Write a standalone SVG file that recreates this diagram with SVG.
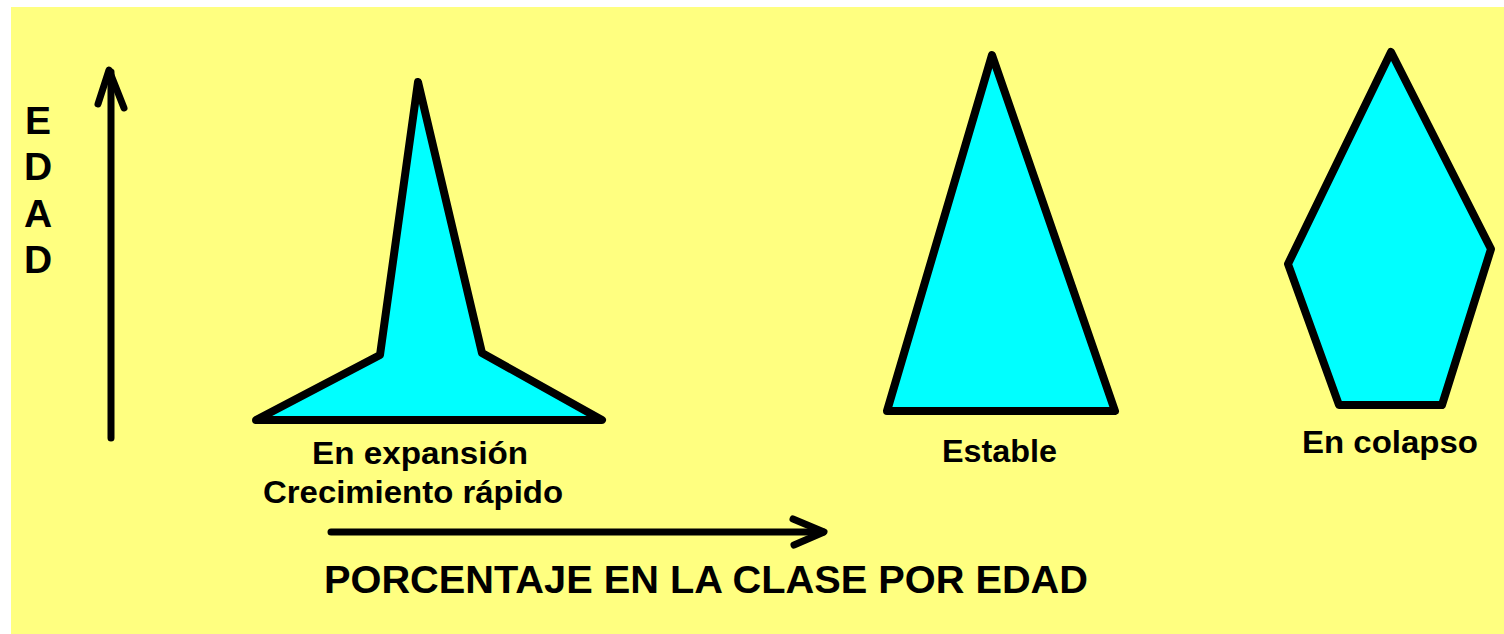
<svg xmlns="http://www.w3.org/2000/svg" width="1504" height="634" viewBox="0 0 1504 634">
<style>
.shape{fill:#00FFFF;stroke:#000;stroke-width:8;stroke-linejoin:round}
.lbl{font-family:"Liberation Sans",Arial,sans-serif;font-size:31px;font-weight:bold;fill:#000}
.big{font-family:"Liberation Sans",Arial,sans-serif;font-size:39px;font-weight:bold;fill:#000}
.axis{stroke:#000;stroke-width:7;fill:none;stroke-linecap:round;stroke-linejoin:round}
</style>
<rect x="0" y="0" width="1504" height="634" fill="#fff"/>
<rect x="11" y="7" width="1493" height="627" fill="#FFFF80"/>
<g id="connectors">
<path class="axis" d="M111,438 V72"/>
<path class="axis" d="M98,104 L109,70 L124,108"/>
<path class="axis" d="M331,532 H823"/>
<path class="axis" d="M793,519 L824,532 L794,545"/>
</g>
<g id="axis-y-label">
<text class="big" x="38" y="134" text-anchor="middle">E</text>
<text class="big" x="38" y="180" text-anchor="middle">D</text>
<text class="big" x="38" y="227" text-anchor="middle">A</text>
<text class="big" x="38" y="273" text-anchor="middle">D</text>
</g>
<g id="axis-x-label">
<text class="big" x="324" y="593" textLength="764" lengthAdjust="spacingAndGlyphs">PORCENTAJE EN LA CLASE POR EDAD</text>
</g>
<g id="expansion">
<polygon class="shape" points="418,82 482,353 602,420 256,420 380,355"/>
<text class="lbl" x="312" y="464" textLength="216" lengthAdjust="spacingAndGlyphs">En expansión</text>
<text class="lbl" x="263" y="503" textLength="300" lengthAdjust="spacingAndGlyphs">Crecimiento rápido</text>
</g>
<g id="estable">
<polygon class="shape" points="992,55 1115,411 887,411"/>
<text class="lbl" x="942" y="462" textLength="115" lengthAdjust="spacingAndGlyphs">Estable</text>
</g>
<g id="colapso">
<polygon class="shape" points="1391,52 1491,249 1442,405 1339,405 1288,264"/>
<text class="lbl" x="1302" y="453" textLength="176" lengthAdjust="spacingAndGlyphs">En colapso</text>
</g>
</svg>
